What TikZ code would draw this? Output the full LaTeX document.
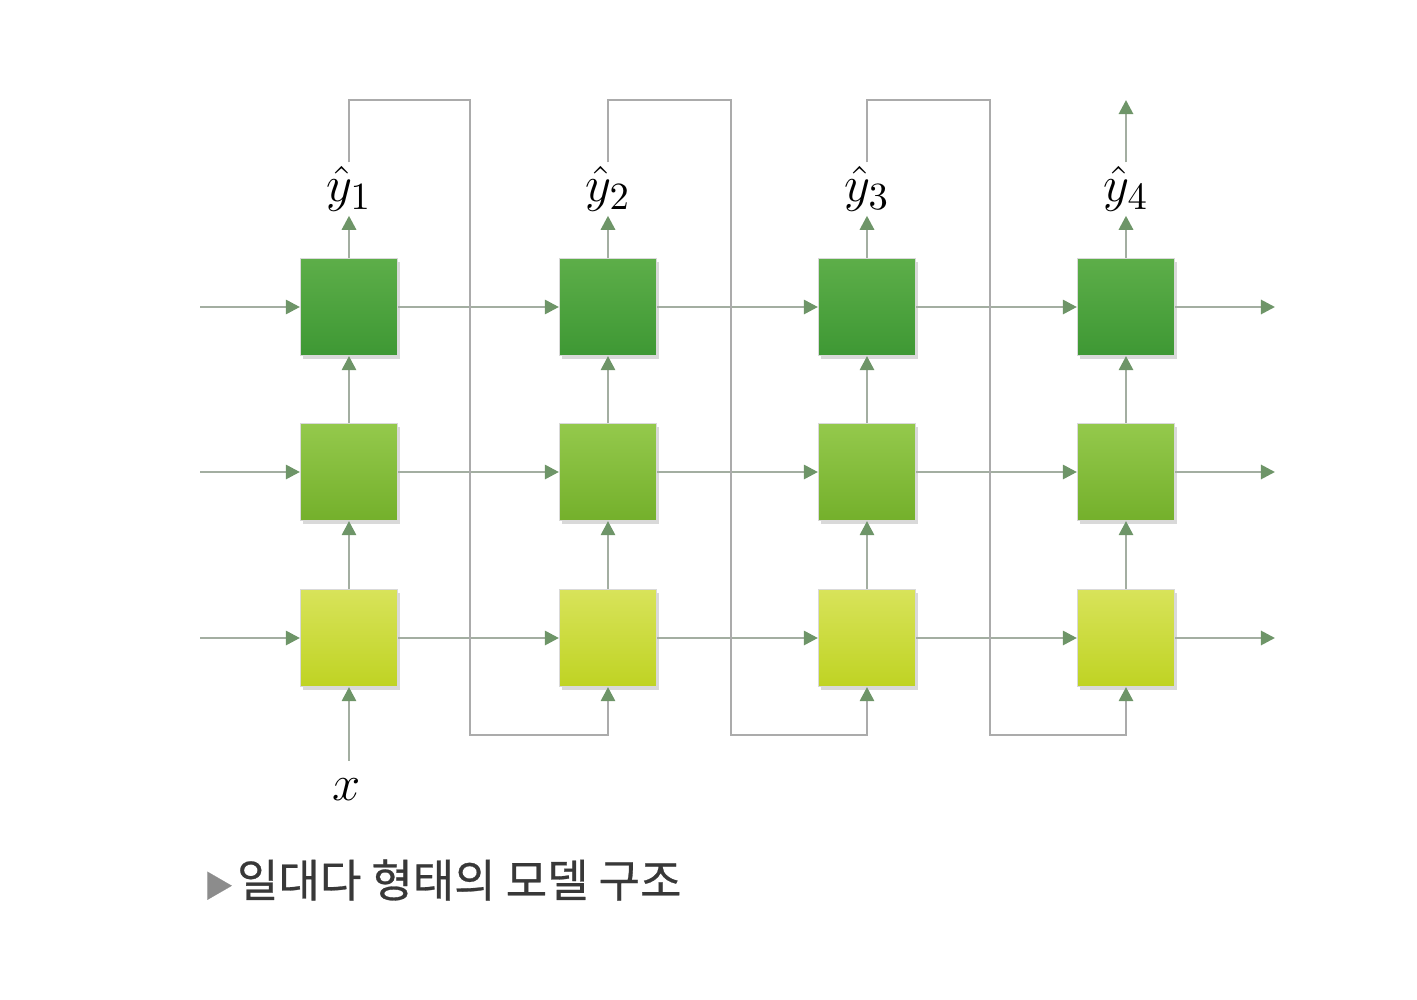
\documentclass[tikz,border=0pt]{standalone}
\usepackage{fontspec}
\newfontfamily\krfont[FakeBold=0.6]{Noto Sans CJK KR}
\usetikzlibrary{arrows.meta,shadows}

\definecolor{topA}{HTML}{5DAE49}
\definecolor{topB}{HTML}{3E9834}
\definecolor{midA}{HTML}{94C94C}
\definecolor{midB}{HTML}{74B02B}
\definecolor{lowA}{HTML}{D8E35A}
\definecolor{lowB}{HTML}{BFD323}
\definecolor{wire}{HTML}{A3AEA1}
\definecolor{tipc}{HTML}{6E9568}
\definecolor{loopc}{HTML}{ABABAB}

\begin{document}
\begin{tikzpicture}[x=0.01cm,y=-0.01cm,
    cell/.style={minimum size=0.97cm,inner sep=0pt,draw=black!15,line width=0.3pt,
      drop shadow={opacity=0.3,shadow xshift=0.8pt,shadow yshift=-1pt}},
    h3/.style={cell,top color=topA,bottom color=topB},
    h2/.style={cell,top color=midA,bottom color=midB},
    h1/.style={cell,top color=lowA,bottom color=lowB},
    wire/.style={draw=wire,line width=0.8pt,-{Triangle[length=4pt,width=4pt,color=tipc]}},
    loop/.style={draw=loopc,line width=0.8pt,-{Triangle[length=4pt,width=4pt,color=tipc]}},
    lab/.style={font=\fontsize{15}{18}\selectfont,inner sep=1pt}]

    \useasboundingbox (0,0) rectangle (1417,1000);

    % Zellen: Spalten 1..4, Schichten 1 (unten) .. 3 (oben)
    \foreach \c/\xx in {1/349,2/608,3/867,4/1126} {
        \node[h1] (c\c-1) at (\xx,638) {};
        \node[h2] (c\c-2) at (\xx,472) {};
        \node[h3] (c\c-3) at (\xx,307) {};
    }

    % Ein- und Ausgaenge der Zeilen
    \foreach \r/\yy in {1/638,2/472,3/307} {
        \coordinate (in\r) at (200,\yy);
        \coordinate (out\r) at (1275,\yy);
        \draw[wire] (in\r) -- (c1-\r.west);
        \draw[wire] (c1-\r.east) -- (c2-\r.west);
        \draw[wire] (c2-\r.east) -- (c3-\r.west);
        \draw[wire] (c3-\r.east) -- (c4-\r.west);
        \draw[wire] (c4-\r.east) -- (out\r);
    }

    % senkrechte Verbindungen
    \foreach \c in {1,2,3,4} {
        \draw[wire] (c\c-1.north) -- (c\c-2.south);
        \draw[wire] (c\c-2.north) -- (c\c-3.south);
    }

    % Eingang x
    \node[lab] (x) at (347,790) {$x$};
    \draw[wire,shorten <=4pt] (x.north -| c1-1.south) -- (c1-1.south);

    % Ausgaben
    \node[lab] (y1) at (349,189) {$\hat{y}_1$};
    \node[lab] (y2) at (608,189) {$\hat{y}_2$};
    \node[lab] (y3) at (867,189) {$\hat{y}_3$};
    \node[lab] (y4) at (1126,189) {$\hat{y}_4$};
    \foreach \c in {1,2,3,4} {
        \draw[wire] (c\c-3.north) -- (y\c.south);
    }

    % Rueckfuehrung der Ausgabe
    \coordinate (t1) at (470,100);  \coordinate (b1) at (470,735);
    \coordinate (t2) at (731,100);  \coordinate (b2) at (731,735);
    \coordinate (t3) at (990,100);  \coordinate (b3) at (990,735);
    \coordinate (t4) at (1126,100);
    \draw[loop] (y1.north) |- (t1) -- (b1) -| (c2-1.south);
    \draw[loop] (y2.north) |- (t2) -- (b2) -| (c3-1.south);
    \draw[loop] (y3.north) |- (t3) -- (b3) -| (c4-1.south);
    \draw[wire] (y4.north) -- (t4);

    % Bildunterschrift
    \node[anchor=west,inner sep=0pt,font=\krfont\fontsize{12.8}{15}\selectfont] (cap) at (203,880)
        {\textcolor{black!45}{\fontsize{8.5}{10}\selectfont▶}\hspace{1pt}\textcolor{black!78}{일대다 형태의 모델 구조}};
\end{tikzpicture}
\end{document}
